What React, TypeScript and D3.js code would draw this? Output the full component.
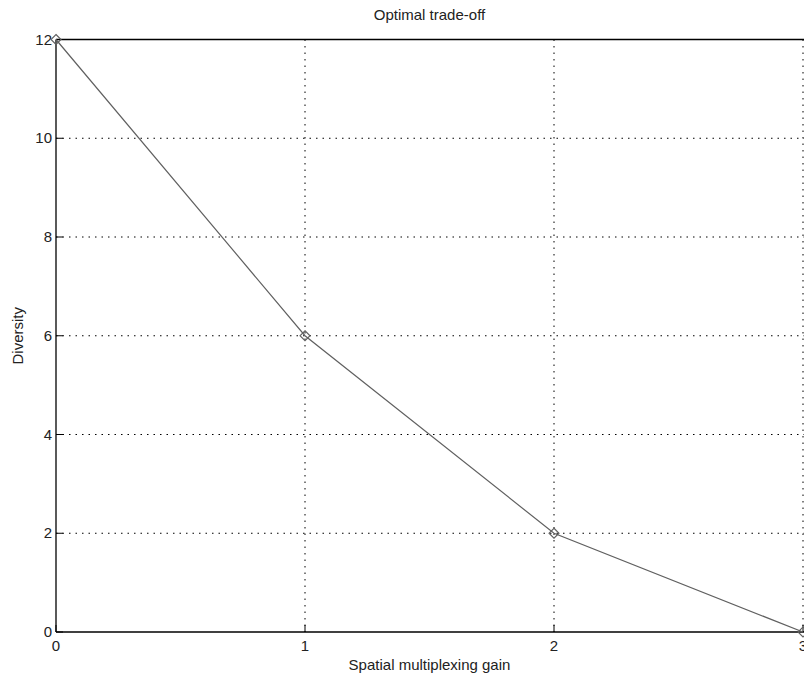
import React, { useEffect, useRef } from "react";
import * as d3 from "d3";

const gains = [0, 1, 2, 3];
const diversity = [12, 6, 2, 0];
const xTicks = [0, 1, 2, 3];
const yTicks = [0, 2, 4, 6, 8, 10, 12];
const title = "Optimal trade-off";
const xLabel = "Spatial multiplexing gain";
const yLabel = "Diversity";

const W = 804, H = 678;
const M = { left: 56, right: 803, top: 39.5, bottom: 632 };
const FONT = "'Liberation Sans', Arial, Helvetica, sans-serif";
const FS = 15;

export default function App() {
  const ref = useRef<SVGSVGElement>(null);
  useEffect(() => {
    const svg = d3.select(ref.current);
    svg.selectAll("*").remove();
    const x = d3.scaleLinear().domain([0, 3]).range([M.left, M.right]);
    const y = d3.scaleLinear().domain([0, 12]).range([M.bottom, M.top]);

    const g = svg.append("g");
    // grid
    g.selectAll(".gx").data(xTicks.slice(1)).enter().append("line")
      .attr("x1", d => x(d)).attr("x2", d => x(d)).attr("y1", M.top).attr("y2", M.bottom)
      .attr("stroke", "#000").attr("stroke-width", 1).attr("stroke-dasharray", "1.5,5");
    g.selectAll(".gy").data(yTicks.slice(1)).enter().append("line")
      .attr("x1", M.left).attr("x2", M.right + 10).attr("y1", d => y(d)).attr("y2", d => y(d))
      .attr("stroke", "#000").attr("stroke-width", 1).attr("stroke-dasharray", "1.5,5");

    // frame
    g.append("line").attr("x1", M.left).attr("x2", W + 10).attr("y1", M.top).attr("y2", M.top)
      .attr("stroke", "#000").attr("stroke-width", 1.3);
    g.append("line").attr("x1", M.left).attr("x2", W + 10).attr("y1", M.bottom).attr("y2", M.bottom)
      .attr("stroke", "#000").attr("stroke-width", 1.3);
    g.append("line").attr("x1", M.left).attr("x2", M.left).attr("y1", M.top).attr("y2", M.bottom)
      .attr("stroke", "#000").attr("stroke-width", 1.3);

    // ticks
    g.selectAll(".tx").data(xTicks).enter().append("line")
      .attr("x1", d => x(d)).attr("x2", d => x(d)).attr("y1", M.bottom).attr("y2", M.bottom - 7)
      .attr("stroke", "#000");
    g.selectAll(".ty").data(yTicks).enter().append("line")
      .attr("x1", M.left).attr("x2", M.left + 7).attr("y1", d => y(d)).attr("y2", d => y(d))
      .attr("stroke", "#000");

    // tick labels
    g.selectAll(".lx").data(xTicks).enter().append("text")
      .attr("x", d => x(d)).attr("y", M.bottom + 19).attr("text-anchor", "middle")
      .attr("font-family", FONT).attr("font-size", FS).attr("fill", "#222").text(d => String(d));
    g.selectAll(".ly").data(yTicks).enter().append("text")
      .attr("x", M.left - 4).attr("y", d => y(d) + 5).attr("text-anchor", "end")
      .attr("font-family", FONT).attr("font-size", FS).attr("fill", "#222").text(d => String(d));

    // line
    const pts = gains.map((gv, i) => [gv, diversity[i]] as [number, number]);
    g.append("path").datum(pts)
      .attr("d", d3.line<[number, number]>().x(d => x(d[0])).y(d => y(d[1])))
      .attr("fill", "none").attr("stroke", "#606060").attr("stroke-width", 1.2);
    const s = 5;
    g.selectAll(".mk").data(pts).enter().append("path")
      .attr("d", d => {
        const cx = x(d[0]), cy = y(d[1]);
        return `M${cx},${cy - s}L${cx + s},${cy}L${cx},${cy + s}L${cx - s},${cy}Z`;
      })
      .attr("fill", "none").attr("stroke", "#606060").attr("stroke-width", 1.1);

    // titles
    svg.append("text").attr("x", (M.left + M.right) / 2).attr("y", 20).attr("text-anchor", "middle")
      .attr("font-family", FONT).attr("font-size", FS).attr("fill", "#222").text(title);
    svg.append("text").attr("x", (M.left + M.right) / 2).attr("y", 670).attr("text-anchor", "middle")
      .attr("font-family", FONT).attr("font-size", FS).attr("fill", "#222").text(xLabel);
    svg.append("text").attr("transform", `translate(23,${(M.top + M.bottom) / 2}) rotate(-90)`)
      .attr("text-anchor", "middle")
      .attr("font-family", FONT).attr("font-size", FS).attr("fill", "#222").text(yLabel);
  }, []);
  return (
    <svg ref={ref} width={W} height={H}
      style={{ position: "absolute", left: 0, top: 0, background: "#fff" }} />
  );
}
